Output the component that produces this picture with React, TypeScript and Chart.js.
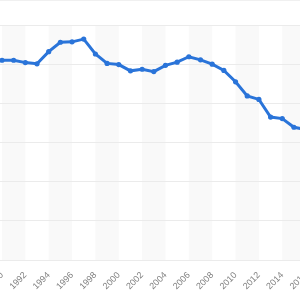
import React, { useEffect, useRef } from "react";
import { Chart, registerables } from "chart.js";

Chart.register(...registerables);

const years = [
  1990, 1991, 1992, 1993, 1994, 1995, 1996, 1997, 1998, 1999, 2000, 2001, 2002,
  2003, 2004, 2005, 2006, 2007, 2008, 2009, 2010, 2011, 2012, 2013, 2014, 2015, 2016,
];
const values = [
  51.0, 51.0, 50.4, 50.1, 53.2, 55.6, 55.7, 56.4, 52.6, 50.2, 49.9, 48.3, 48.7,
  48.1, 49.7, 50.5, 51.9, 51.1, 50.0, 48.4, 45.5, 41.9, 41.0, 36.5, 36.1, 33.9, 33.3,
];
const tickYears = [1988, 1990, 1992, 1994, 1996, 1998, 2000, 2002, 2004, 2006, 2008, 2010, 2012, 2014, 2016, 2018];
const shadedBands: [number, number][] = [
  [1990, 1992], [1994, 1996], [1998, 2000], [2002, 2004], [2006, 2008],
  [2010, 2012], [2014, 2016],
];

const bandPlugin = {
  id: "bands",
  beforeDraw(chart: any) {
    const { ctx, chartArea, scales } = chart;
    const x = scales.x;
    ctx.save();
    ctx.fillStyle = "#f9f9f9";
    for (const [a, b] of shadedBands) {
      const x0 = Math.max(x.getPixelForValue(a), chartArea.left);
      const x1 = Math.min(x.getPixelForValue(b), chartArea.right);
      if (x1 > x0) ctx.fillRect(x0, chartArea.top, x1 - x0, chartArea.bottom - chartArea.top);
    }
    ctx.restore();
  },
};

export default function App() {
  const ref = useRef<HTMLCanvasElement | null>(null);
  useEffect(() => {
    if (!ref.current) return;
    const chart = new Chart(ref.current, {
      type: "line",
      data: {
        datasets: [
          {
            data: years.map((y, i) => ({ x: y, y: values[i] })),
            borderColor: "#2a74d9",
            backgroundColor: "#2a74d9",
            borderWidth: 3,
            pointRadius: 2.6,
            pointBackgroundColor: "#2a74d9",
            pointBorderWidth: 0,
            tension: 0,
          },
        ],
      },
      options: {
        animation: false,
        responsive: false,
        maintainAspectRatio: false,
        layout: { padding: { top: 25, left: 20.3, right: 12.7, bottom: 0 } },
        plugins: { legend: { display: false }, tooltip: { enabled: false } },
        scales: {
          x: {
            type: "linear",
            min: 1989,
            max: 2017,
            afterBuildTicks: (s: any) => {
              s.ticks = tickYears.filter((v) => v >= 1989 && v <= 2017).map((v) => ({ value: v }));
            },
            afterFit: (s: any) => {
              s.height = 40;
            },
            grid: { display: false, drawTicks: false },
            border: { display: false },
            ticks: {
              autoSkip: false,
              minRotation: 45,
              maxRotation: 45,
              padding: 10,
              color: "#808080",
              font: { size: 9, family: "'Liberation Sans', Arial, sans-serif" },
              callback: (v: any) => String(v),
            },
          },
          y: {
            min: 0,
            max: 60,
            afterFit: (s: any) => {
              s.width = 0;
            },
            ticks: { display: false, stepSize: 10 },
            grid: { color: "#ebebeb", drawTicks: false },
            border: { display: false },
          },
        },
      },
      plugins: [bandPlugin],
    });
    return () => chart.destroy();
  }, []);
  return (
    <div
      style={{
        position: "fixed",
        left: 0,
        top: 0,
        width: 300,
        height: 300,
        overflow: "hidden",
        background: "#fff",
        borderTop: "1px solid #f0f0f0",
        boxSizing: "border-box",
      }}
    >
      <canvas
        ref={ref}
        width={360}
        height={300}
        style={{ position: "absolute", left: -30, top: -1, width: 360, height: 300 }}
      />
    </div>
  );
}
